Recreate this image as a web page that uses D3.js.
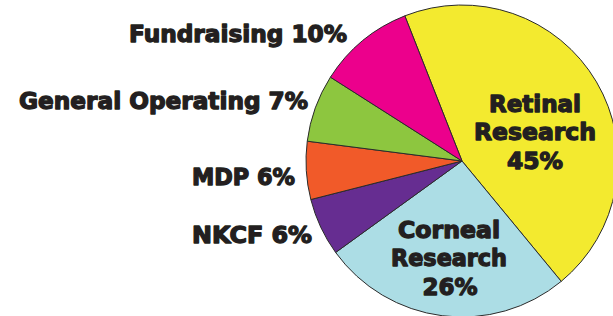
<!DOCTYPE html>
<html>
<head>
<meta charset="utf-8">
<script src="https://cdn.jsdelivr.net/npm/d3@7"></script>
<style>
  html, body { margin: 0; padding: 0; background: #fff; }
  svg { display: block; }
  text { font-family: "DejaVu Sans", "Liberation Sans", sans-serif; font-weight: bold; fill: #231f20; stroke: #231f20; stroke-width: 1.3px; stroke-linejoin: round; }
</style>
</head>
<body>
<svg id="chart" width="613" height="316"></svg>
<script>
// ---- data ----
const categories = ["Retinal Research", "Corneal Research", "NKCF", "MDP", "General Operating", "Fundraising"];
const values = [45, 26, 6, 6, 7, 10];
const labels = [
  ["Retinal", "Research", "45%"],
  ["Corneal", "Research", "26%"],
  ["NKCF 6%"],
  ["MDP 6%"],
  ["General Operating 7%"],
  ["Fundraising 10%"]
];
const colors = ["#f3ea2f", "#acdde5", "#662d91", "#f15a29", "#8dc63f", "#ec008c"];

// ---- layout ----
const cx = 462, cy = 161, R = 156;
const startDeg = -21.5;
// label layout: [x, baseline y, anchor, target width] per line
const labelLayout = [
  [[535, 111.5, "middle", 92], [535, 140, "middle", 122], [535, 168.5, "middle", 56]],
  [[449, 237.5, "middle", 102], [449, 266, "middle", 116], [450, 294.5, "middle", 55]],
  [[312, 243.3, "end", 120]],
  [[295, 185, "end", 103]],
  [[308, 108.5, "end", 289]],
  [[347, 42.3, "end", 218]]
];

const svg = d3.select("#chart");
const color = d3.scaleOrdinal().domain(categories).range(colors);

const pie = d3.pie()
  .value((d, i) => values[i])
  .sort(null)
  .startAngle(startDeg * Math.PI / 180)
  .endAngle(startDeg * Math.PI / 180 + 2 * Math.PI);

const arc = d3.arc().innerRadius(0).outerRadius(R);

const g = svg.append("g").attr("transform", `translate(${cx},${cy})`);
g.selectAll("path")
  .data(pie(categories))
  .join("path")
  .attr("d", arc)
  .attr("fill", d => color(d.data))
  .attr("stroke", "#2b2b2b")
  .attr("stroke-width", 1)
  .attr("stroke-linejoin", "round");

const fontSize = 22.5;
categories.forEach((c, i) => {
  labels[i].forEach((line, j) => {
    const [x, y, anchor, w] = labelLayout[i][j];
    svg.append("text")
      .attr("x", x)
      .attr("y", y)
      .attr("text-anchor", anchor)
      .attr("font-size", fontSize)
      .attr("textLength", w)
      .attr("lengthAdjust", "spacingAndGlyphs")
      .text(line);
  });
});
</script>
</body>
</html>
